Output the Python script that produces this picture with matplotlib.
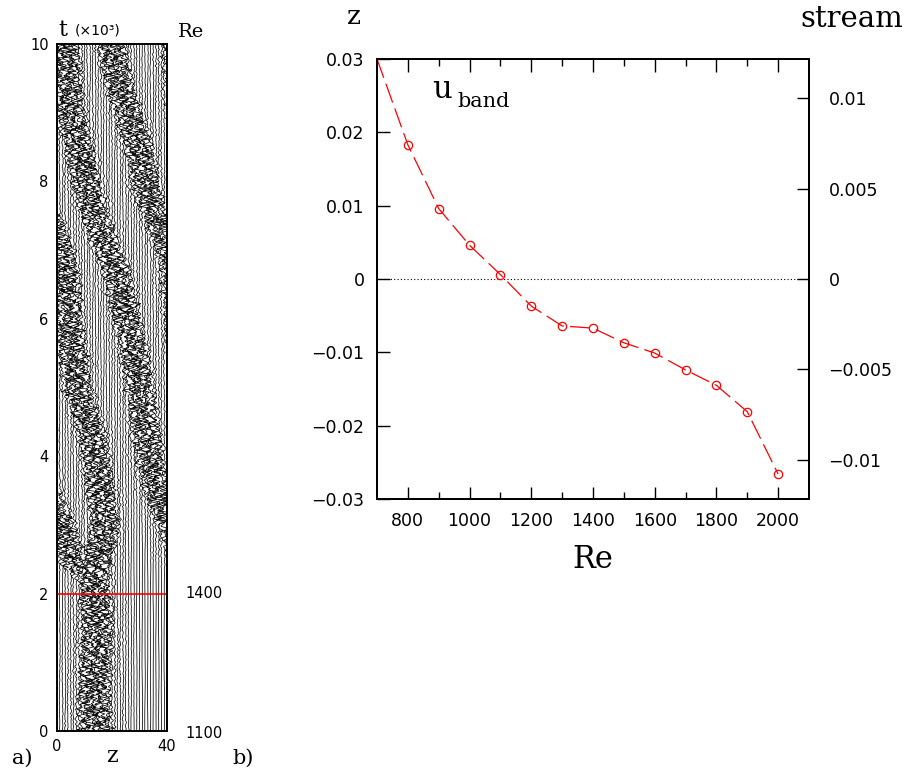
import numpy as np
import matplotlib
matplotlib.use("Agg")
import matplotlib.pyplot as plt

# ---- panel b: band speed vs Re ----
re_vals = [700, 800, 900, 1000, 1100, 1200, 1300, 1400, 1500, 1600, 1700, 1800, 1900, 2000]
u_band = [0.0300, 0.0183, 0.0096, 0.0046, 0.0006, -0.0037, -0.0064, -0.0067,
          -0.0087, -0.0101, -0.0124, -0.0145, -0.0181, -0.0266]
left_ticks = [0.03, 0.02, 0.01, 0, -0.01, -0.02, -0.03]
left_labels = ["0.03", "0.02", "0.01", "0", "\u22120.01", "\u22120.02", "\u22120.03"]
right_ticks = [0.01, 0.005, 0, -0.005, -0.01]
right_labels = ["0.01", "0.005", "0", "\u22120.005", "\u22120.01"]

# ---- panel a: turbulent band centres ----
# t in units of 10^3, z unwrapped (periodic with length 40)
bandB_t = [0.0, 0.4, 0.8, 1.25, 1.75, 2.2, 2.6, 3.0, 3.45, 3.95, 4.4, 4.9, 5.3, 5.65,
           6.05, 6.65, 7.0, 7.2, 7.5, 7.7, 7.9, 8.35, 8.85, 9.35, 10.0]
bandB_z = [14, 13.5, 13.8, 14.5, 14.5, 13.5, 15.5, 17.5, 16, 14.5, 12, 8, 6.5, 5,
           4, 3, 1, -1, -4, -6, -7.5, -9.3, -13, -17, -20.5]
bandA_t = [2.1, 2.3, 2.45, 2.8, 3.15, 3.45, 3.95, 4.7, 5.4, 5.75, 6.25, 6.7, 7.2, 7.6,
           8.0, 8.6, 9.1, 10.0]
bandA_z = [12, 9, 6, 3, 0, -3.5, -6.3, -8.7, -11.5, -13.5, -16, -18.5, -23.5, -27,
           -29.5, -32.8, -35.5, -37]
re_switch_t = 2.0
z_traces = np.arange(0, 41)

W, H = 907, 775
fig = plt.figure(figsize=(W / 100, H / 100), dpi=100)


def px(x, y):
    return x / W, 1 - y / H


serif = "DejaVu Serif"
sans = "DejaVu Sans"

# ================= panel a =================
axa = fig.add_axes([57 / W, 1 - 731 / H, 110 / W, 687 / H])
t = np.linspace(0, 10, 4000)
width = np.where(t < re_switch_t, 5.0, 4.3)
ramp = np.clip((t - 2.1) / 0.35, 0, 1)
cB = np.interp(t, bandB_t, bandB_z)
cA = np.interp(t, bandA_t, bandA_z)

# texture of the velocity traces (deterministic sum of incommensurate sines)
freqs = np.array([27.0, 38.3, 51.9, 66.1, 83.7, 101.3, 123.9, 149.1, 177.7])
weights = np.array([0.6, 0.8, 0.9, 0.9, 0.8, 0.7, 0.6, 0.5, 0.4])
norm = np.sqrt((weights ** 2).sum() / 2)
k = np.arange(len(freqs))


def profile(d, w):
    # flat-topped core plus a weaker wide tail
    return np.exp(-(d / w) ** 4) + 0.3 * np.exp(-(d / (1.9 * w)) ** 2)


for j in z_traces:
    ph = 2 * np.pi * ((j * 0.618034 + k * 0.414214 + j * k * 0.1373) % 1)
    fj = freqs * (0.7 + 0.6 * ((j * 0.7548 + k * 0.5698 + j * k * 0.0917) % 1))
    wig = (weights[:, None] * np.sin(fj[:, None] * t + ph[:, None])).sum(0) / norm
    slow = 0.6 * np.sin(3.1 * t + ph[0]) + 0.4 * np.sin(5.7 * t + ph[1])
    dB = (j - cB + 20) % 40 - 20
    dA = (j - cA + 20) % 40 - 20
    sB = profile(dB, width)
    sA = profile(dA, width) * ramp
    turb = np.minimum(np.maximum(sB, sA), 1.0)
    x = j + 0.85 * turb * wig + (0.1 + 0.45 * turb) * slow
    axa.plot(x, t, color="black", lw=0.55)

axa.axhline(re_switch_t, color="red", lw=1.2)
axa.set_xlim(0, 40)
axa.set_ylim(0, 10)
axa.set_yticks([0, 2, 4, 6, 8, 10])
axa.set_yticklabels(["0", "2", "4", "6", "8", "10"], fontfamily=sans, fontsize=10.5)
axa.set_xticks([0, 40])
axa.set_xticklabels(["0", "40"], fontfamily=sans, fontsize=10.5)
axa.tick_params(length=0, pad=6)
for s in axa.spines.values():
    s.set_linewidth(1.4)

fig.text(*px(58, 36), "t", fontfamily=serif, fontsize=16, va="baseline")
fig.text(*px(75, 35), "(\u00d710\u00b3)", fontfamily=sans, fontsize=10, va="baseline")
fig.text(*px(178, 37), "Re", fontfamily=serif, fontsize=14, va="baseline")
fig.text(*px(185, 594), "1400", fontfamily=sans, fontsize=10.5, va="center")
fig.text(*px(185, 733), "1100", fontfamily=sans, fontsize=10.5, va="center")
fig.text(*px(112, 762), "z", fontfamily=serif, fontsize=16, ha="center", va="baseline")
fig.text(*px(12, 764), "a)", fontfamily=serif, fontsize=15, va="baseline")
fig.text(*px(232, 764), "b)", fontfamily=serif, fontsize=15, va="baseline")

# ================= panel b =================
axb = fig.add_axes([377 / W, 1 - 499 / H, 432 / W, 440 / H])
axb.axhline(0, color="black", lw=0.8, ls=(0, (1, 2)))
axb.plot(re_vals, u_band, color="red", lw=0.9, dashes=(16, 5))
axb.plot(re_vals[1:], u_band[1:], "o", mfc="none", mec="red", ms=6, mew=0.9)
axb.set_xlim(700, 2100)
axb.set_ylim(-0.03, 0.03)
axb.set_xticks(range(800, 2001, 200))
axb.set_xticks(range(900, 2100, 200), minor=True)
axb.set_yticks(left_ticks)
axb.set_yticklabels(left_labels)
for lab in axb.get_xticklabels() + axb.get_yticklabels():
    lab.set_fontfamily(sans)
    lab.set_fontsize(12.5)
axb.tick_params(which="major", direction="in", length=9, width=1, top=True, right=False)
axb.tick_params(which="minor", direction="in", length=5, width=1, top=True, right=False)
axb.tick_params(axis="y", pad=9)
axb.tick_params(axis="x", pad=9)
for s in axb.spines.values():
    s.set_linewidth(1.4)

ax2 = axb.twinx()
ax2.set_ylim(-0.01218, 0.01218)
ax2.set_yticks(right_ticks)
ax2.set_yticklabels(right_labels, fontfamily=sans, fontsize=12.5)
ax2.tick_params(direction="in", length=9, width=1, pad=14)
for s in ax2.spines.values():
    s.set_linewidth(1.4)

fig.text(*px(347, 24), "z", fontfamily=serif, fontsize=19, va="baseline")
fig.text(*px(903, 27), "stream", fontfamily=serif, fontsize=21, ha="right", va="baseline")
fig.text(*px(593, 568), "Re", fontfamily=serif, fontsize=22, ha="center", va="baseline")
fig.text(*px(432, 98), "u", fontfamily=serif, fontsize=22, va="baseline")
fig.text(*px(457, 107), "band", fontfamily=serif, fontsize=15, va="baseline")

fig.savefig("out.png", dpi=100)
